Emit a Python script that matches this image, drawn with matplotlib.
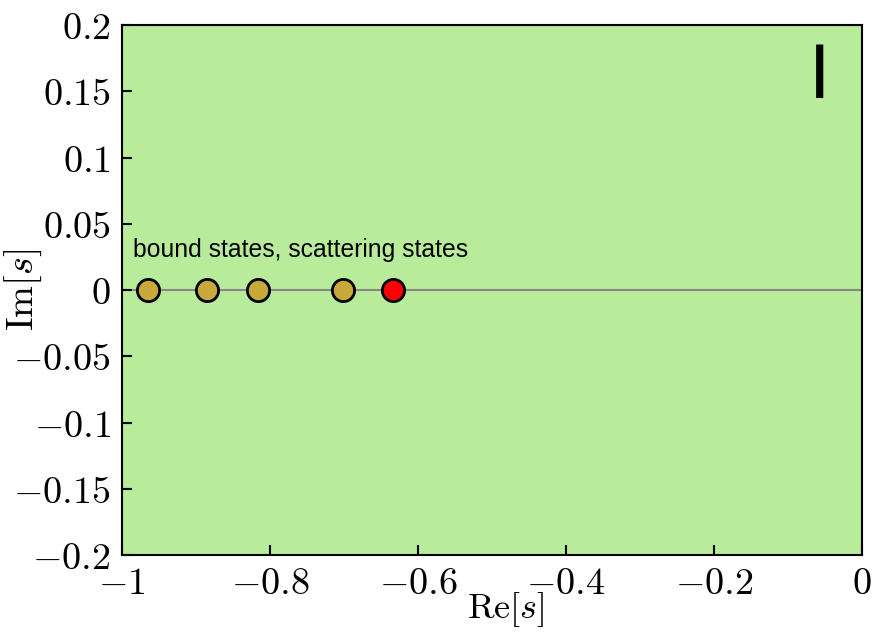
import matplotlib
matplotlib.use("Agg")
import matplotlib.pyplot as plt

plt.rcParams['mathtext.fontset'] = 'cm'
plt.rcParams['font.family'] = ['DejaVu Sans']

re_vals = [-0.965, -0.885, -0.816, -0.701, -0.634]
im_vals = [0.0, 0.0, 0.0, 0.0, 0.0]
colors = ['#C9A93A', '#C9A93A', '#C9A93A', '#C9A93A', '#FF0000']
xticks = [-1, -0.8, -0.6, -0.4, -0.2, 0]
xticklabels = [r'$-1$', r'$-0.8$', r'$-0.6$', r'$-0.4$', r'$-0.2$', r'$0$']
yticks = [0.2, 0.15, 0.1, 0.05, 0, -0.05, -0.1, -0.15, -0.2]
yticklabels = [r'$0.2$', r'$0.15$', r'$0.1$', r'$0.05$', r'$0$', r'$-0.05$', r'$-0.1$', r'$-0.15$', r'$-0.2$']
annotation = 'bound states, scattering states'
panel = 'I'

fig = plt.figure(figsize=(8.73, 6.32), dpi=100)
ax = fig.add_axes([0.1397, 0.1218, 0.8477, 0.8386])
ax.set_facecolor('#B8EB9A')
ax.set_xlim(-1, 0)
ax.set_ylim(-0.2, 0.2)

ax.axhline(0, color='#888888', lw=1.5, zorder=1)
for x, y, c in zip(re_vals, im_vals, colors):
    ax.plot(x, y, 'o', ms=16, mfc=c, mec='black', mew=2, zorder=3)

ax.text(-0.985, 0.025, annotation, fontsize=17.8, family=['Liberation Sans', 'DejaVu Sans'], va='baseline')
ax.text(-0.057, 0.145, panel, fontsize=56, family=['Liberation Sans', 'DejaVu Sans'], ha='center', va='baseline')

ax.set_xticks(xticks)
ax.set_xticklabels(xticklabels)
ax.set_yticks(yticks)
ax.set_yticklabels(yticklabels)
ax.tick_params(direction='in', length=7, width=1.5, labelsize=27.5, pad=8, top=False, right=False)
for s in ax.spines.values():
    s.set_linewidth(1.5)

ax.set_xlabel(r'$\mathrm{Re}[s]$', fontsize=26)
ax.xaxis.set_label_coords(0.519, -0.066)
ax.set_ylabel(r'$\mathrm{Im}[s]$', fontsize=27.5)
ax.yaxis.set_label_coords(-0.106, 0.5)

fig.savefig('out.png', dpi=100)
